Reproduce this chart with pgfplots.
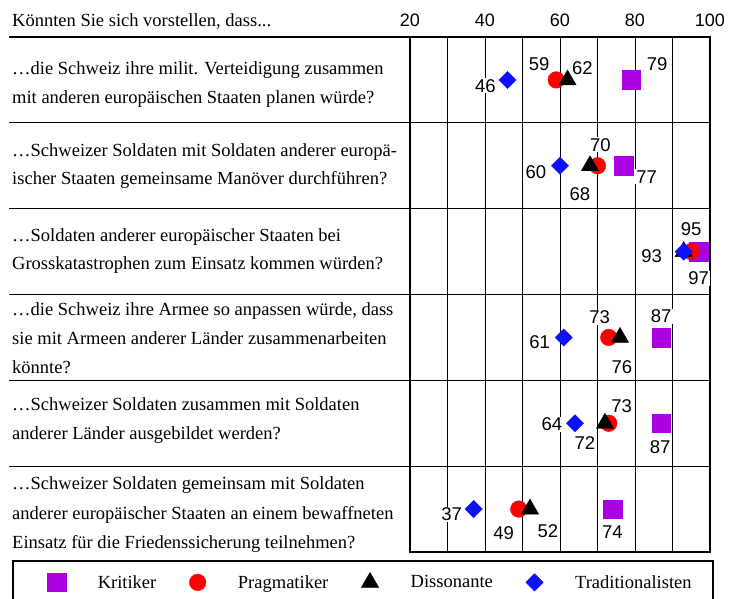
\documentclass[border=0pt]{standalone}
\usepackage{pgfplots}
\pgfplotsset{compat=1.18}
\usepackage{pgfplotstable}
\usepackage{fontspec}
\setmainfont{Liberation Serif}
\newfontfamily\arial{Liberation Sans}
\definecolor{kpurple}{RGB}{170,0,225}
\definecolor{pred}{RGB}{255,0,0}
\definecolor{tblue}{RGB}{15,15,255}

\pgfplotstableread{
x y lab dx dy
79 0.5 79 26 16
77 1.5 77 23 -11
97 2.5 97 0 -27
87 3.5 87 0 21
87 4.5 87 -1 -24
74 5.5 74 0 -23
}\kritiker
\pgfplotstableread{
x y lab dx dy
59 0.5 59 -17 16
70 1.5 70 3 21
95 2.5 95 0 22
73 3.5 73 -9 20
73 4.5 73 13 17
49 5.5 49 -15 -24
}\pragmatiker
\pgfplotstableread{
x y lab dx dy
62 0.5 62 15 12
68 1.5 68 -10 -28
76 3.5 76 2 -30
72 4.5 72 -20 -20
52 5.5 52 18 -22
}\dissonante
\pgfplotstableread{
x y
93 2.5
}\dissonanteHidden
\pgfplotstableread{
x y lab dx dy
46 0.5 46 -22 -6
60 1.5 60 -24 -6
93 2.5 93 -32 -5
61 3.5 61 -24 -5
64 4.5 64 -23 -1
37 5.5 37 -22 -5
}\traditionalisten

\pgfplotsset{
  lbl/.style={
    nodes near coords, point meta=explicit symbolic,
    visualization depends on={\thisrow{dx}\as\dx},
    visualization depends on={\thisrow{dy}\as\dy},
    nodes near coords style={anchor=center, xshift=\dx, yshift=\dy,
      fill=white, inner sep=1pt, text=black,
      font=\arial\fontsize{18.5}{20}\selectfont}
  }
}

\begin{document}
\begin{tikzpicture}[x=1pt,y=1pt]
\useasboundingbox (0,0) rectangle (732,598);
\begin{scope}[every node/.style={anchor=base west, inner sep=0pt, font=\fontsize{18.5}{22}\selectfont}]
\node at (12,571.3) {Könnten Sie sich vorstellen, dass...};
\node at (12,523) {…die Schweiz ihre milit. Verteidigung zusammen};
\node at (12,494.5) {mit anderen europäischen Staaten planen würde?};
\node at (12,441.5) {…Schweizer Soldaten mit Soldaten anderer europä-};
\node at (12,413) {ischer Staaten gemeinsame Manöver durchführen?};
\node at (12,356.5) {…Soldaten anderer europäischer Staaten bei};
\node at (12,328) {Grosskatastrophen zum Einsatz kommen würden?};
\node at (12,282) {…die Schweiz ihre Armee so anpassen würde, dass};
\node at (12,253) {sie mit Armeen anderer Länder zusammenarbeiten};
\node at (12,224.5) {könnte?};
\node at (12,187.5) {…Schweizer Soldaten zusammen mit Soldaten};
\node at (12,158) {anderer Länder ausgebildet werden?};
\node at (12,108) {…Schweizer Soldaten gemeinsam mit Soldaten};
\node at (12,78) {anderer europäischer Staaten an einem bewaffneten};
\node at (12,49) {Einsatz für die Friedenssicherung teilnehmen?};
\end{scope}
\foreach \yy in {561,475.2,389.3,303.5,217.7,131.8}{
  \draw[line width=1.2pt] (9,\yy) -- (410,\yy);
}
\draw[line width=1.3pt] (13,37) rectangle (713,-10);
\begin{axis}[
  at={(410pt,46pt)}, anchor=south west, scale only axis,
  width=300pt, height=515pt,
  xmin=20, xmax=100, ymin=0, ymax=6, y dir=reverse,
  xtick={20,40,60,80,100}, minor xtick={30,50,70,90},
  ytick={0,1,2,3,4,5,6}, yticklabels={},
  xticklabel pos=upper,
  major tick length=0pt, minor tick length=0pt,
  grid=both,
  major grid style={black, line width=0.9pt},
  minor grid style={black, line width=0.9pt},
  axis line style={line width=2pt},
  /pgf/number format/assume math mode=true,
  xticklabel style={font=\arial\fontsize{18}{20}\selectfont, yshift=7pt},
  legend columns=4,
  legend style={draw=none, fill=none, at={(-1.21,-0.0583)}, anchor=west,
    inner sep=0pt, font=\fontsize{18.5}{22}\selectfont,
    nodes={inner xsep=0pt},
    /tikz/every odd column/.append style={column sep=32pt},
    /tikz/every even column/.append style={column sep=33pt}},
  legend image code/.code={\draw[#1] plot coordinates {(0pt,0pt)};},
]
\addplot[only marks, mark=square*, mark size=9.3pt, color=kpurple, lbl, forget plot]
  table[x=x, y=y, meta=lab]{\kritiker};
\addplot[only marks, mark=*, mark size=8.3pt, color=pred, lbl, forget plot]
  table[x=x, y=y, meta=lab]{\pragmatiker};
\addplot[only marks, mark=triangle*, mark size=10pt, color=black, forget plot]
  table[x=x, y=y]{\dissonanteHidden};
\addplot[only marks, mark=triangle*, mark size=10pt, color=black, lbl, forget plot]
  table[x=x, y=y, meta=lab]{\dissonante};
\addplot[only marks, mark=square*, mark options={rotate=45}, mark size=6.1pt, color=tblue, lbl, forget plot]
  table[x=x, y=y, meta=lab]{\traditionalisten};
\addlegendimage{only marks, mark=square*, mark size=9.3pt, color=kpurple}
\addlegendentry{Kritiker}
\addlegendimage{only marks, mark=*, mark size=8.3pt, color=pred}
\addlegendentry{Pragmatiker}
\addlegendimage{only marks, mark=triangle*, mark size=10pt, color=black}
\addlegendentry{Dissonante}
\addlegendimage{only marks, mark=square*, mark options={rotate=45}, mark size=6.1pt, color=tblue}
\addlegendentry{Traditionalisten}
\end{axis}
\end{tikzpicture}
\end{document}
